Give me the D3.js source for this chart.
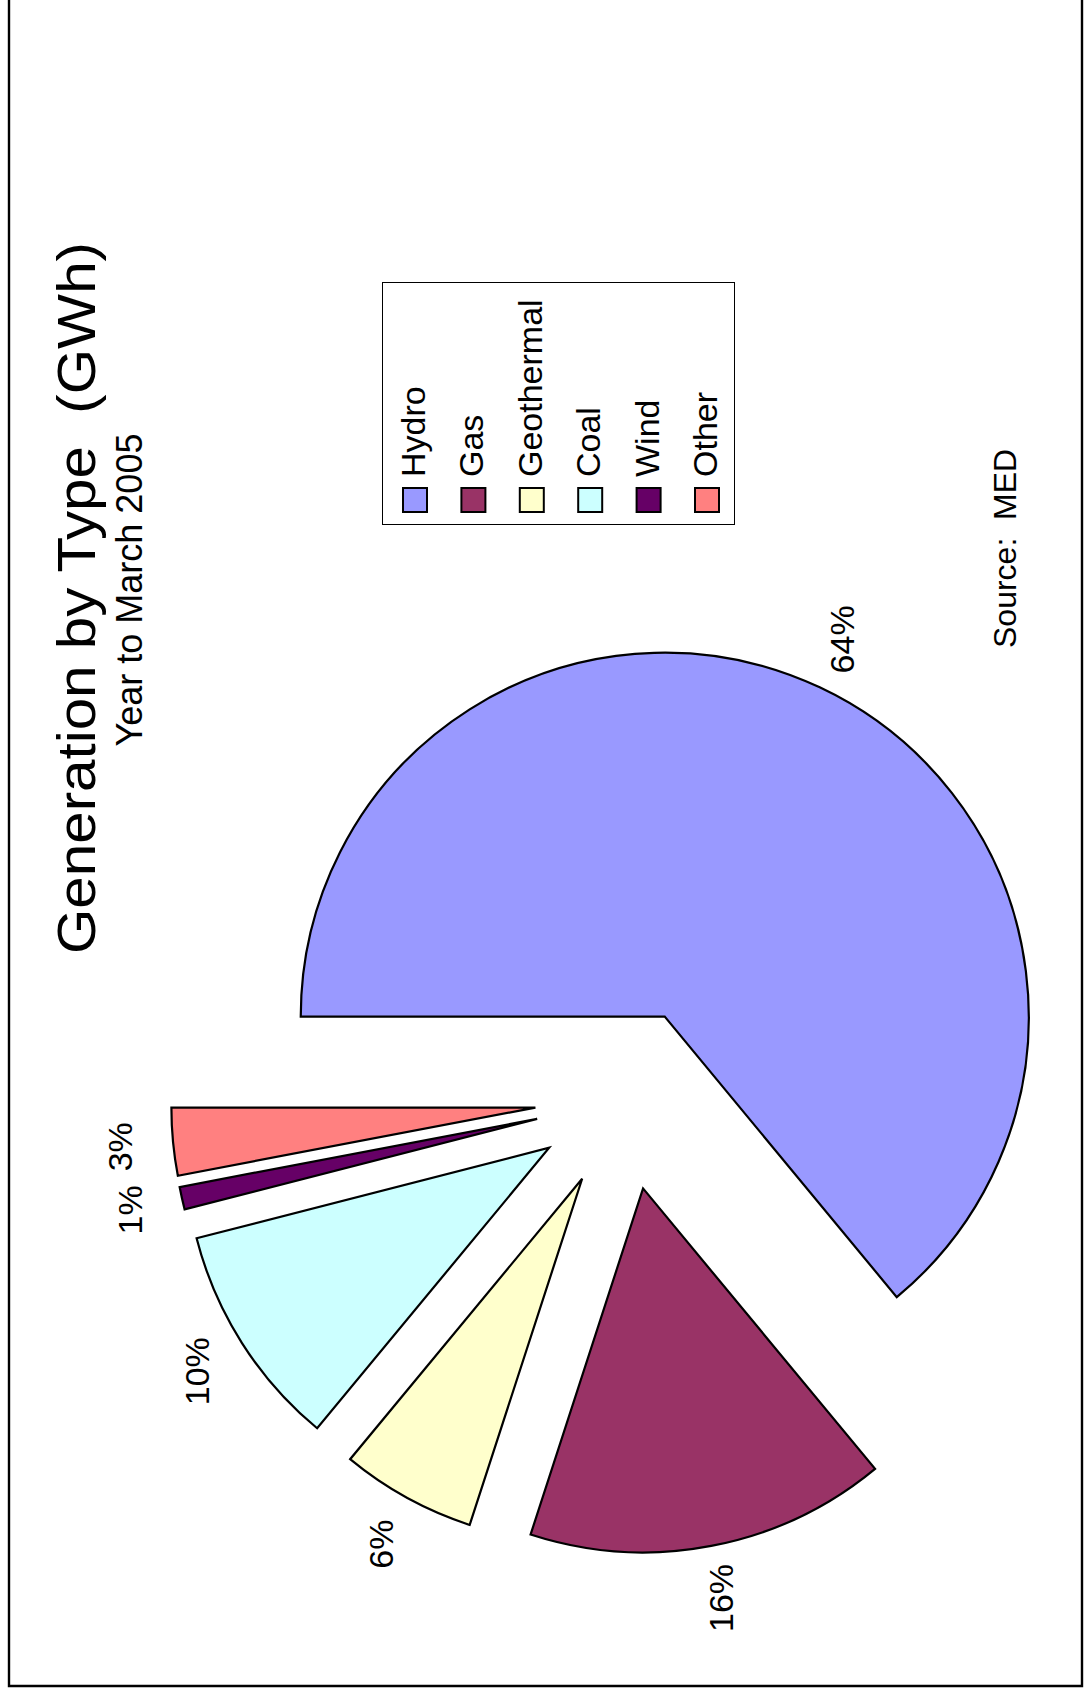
<!DOCTYPE html>
<html>
<head>
<meta charset="utf-8">
<script src="https://cdn.jsdelivr.net/npm/d3@7"></script>
<style>
  html, body { margin: 0; padding: 0; background: #fff; }
  svg { display: block; }
  text { font-family: "Liberation Sans", Arial, sans-serif; fill: #000; }
</style>
</head>
<body>
<div id="chart"></div>
<script>
// Electricity generation by type, year to March 2005 (share of GWh, %)
const categories = ["Hydro", "Gas", "Geothermal", "Coal", "Wind", "Other"];
const shares = [64, 16, 6, 10, 1, 3];
const colours = ["#9999ff", "#993366", "#ffffcc", "#ccffff", "#660066", "#ff8080"];

const W = 1085, H = 1695;
const svg = d3.select("#chart").append("svg")
  .attr("width", W).attr("height", H);

// Sheet border (the page is laid out rotated a quarter turn)
svg.append("path")
  .attr("d", `M9,-5 L9,1686 L1082,1686 L1082,-5`)
  .attr("fill", "none").attr("stroke", "#000").attr("stroke-width", 2.4);

// Title block, reading bottom-to-top
svg.append("text")
  .attr("transform", "translate(95,598) rotate(-90)")
  .attr("text-anchor", "middle")
  .attr("font-size", 54)
  .attr("textLength", 712)
  .attr("lengthAdjust", "spacingAndGlyphs")
  .attr("xml:space", "preserve")
  .text("Generation by Type  (GWh)");

svg.append("text")
  .attr("transform", "translate(142,590) rotate(-90)")
  .attr("text-anchor", "middle")
  .attr("font-size", 36)
  .text("Year to March 2005");

svg.append("text")
  .attr("transform", "translate(1016,648) rotate(-90)")
  .attr("text-anchor", "start")
  .attr("font-size", 32)
  .attr("xml:space", "preserve")
  .text("Source:  MED");

// Exploded pie, first slice starting at 9 o'clock and running clockwise
const cx = 626, cy = 1099;
const R = 364;
const explode = 0.25 * R;
const labelR = 508;
const start = -Math.PI / 2;

const pie = d3.pie().sort(null)
  .startAngle(start).endAngle(start + 2 * Math.PI)
  .value(d => d);
const arc = d3.arc().innerRadius(0).outerRadius(R);
const arcs = pie(shares);

const g = svg.append("g");
g.selectAll("path.slice").data(arcs).join("path")
  .attr("class", "slice")
  .attr("transform", d => {
    const m = (d.startAngle + d.endAngle) / 2;
    return `translate(${cx + explode * Math.sin(m)},${cy - explode * Math.cos(m)})`;
  })
  .attr("d", arc)
  .attr("fill", (d, i) => colours[i])
  .attr("stroke", "#000").attr("stroke-width", 2.2);

g.selectAll("text.pct").data(arcs).join("text")
  .attr("class", "pct")
  .attr("transform", d => {
    const m = (d.startAngle + d.endAngle) / 2;
    return `translate(${cx + labelR * Math.sin(m)},${cy - labelR * Math.cos(m)}) rotate(-90)`;
  })
  .attr("text-anchor", "middle")
  .attr("dy", "0.35em")
  .attr("font-size", 34)
  .text(d => d.data + "%");

// Legend
const legend = svg.append("g");
legend.append("rect")
  .attr("x", 382.5).attr("y", 282.5)
  .attr("width", 352).attr("height", 242)
  .attr("fill", "#fff").attr("stroke", "#000").attr("stroke-width", 1);

const lx = d3.scalePoint().domain(categories).range([403, 695]);
const items = legend.selectAll("g.item").data(categories).join("g")
  .attr("class", "item")
  .attr("transform", d => `translate(${lx(d)},0)`);
items.append("rect")
  .attr("x", 0).attr("y", 488).attr("width", 24).attr("height", 24)
  .attr("fill", (d, i) => colours[i])
  .attr("stroke", "#000").attr("stroke-width", 2);
items.append("text")
  .attr("transform", "translate(22,477) rotate(-90)")
  .attr("font-size", 34)
  .text(d => d);
</script>
</body>
</html>
